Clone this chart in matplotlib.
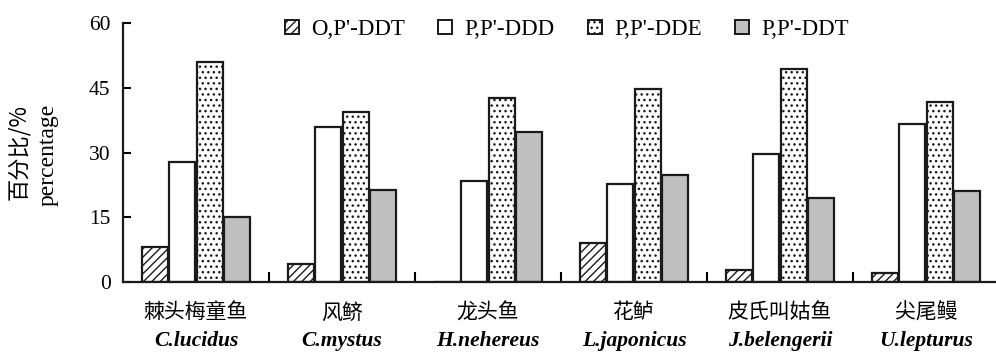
import matplotlib
matplotlib.use("Agg")
import matplotlib.pyplot as plt
from matplotlib.patches import Patch
import numpy as np

# ---- data ----
species_cn = ["棘头梅童鱼", "风鲚", "龙头鱼", "花鲈", "皮氏叫姑鱼", "尖尾鳗"]
species_lat = ["C.lucidus", "C.mystus", "H.nehereus", "L.japonicus", "J.belengerii", "U.lepturus"]
series_names = ["O,P'-DDT", "P,P'-DDD", "P,P'-DDE", "P,P'-DDT"]
op_ddt = [8.0, 4.2, 0.0, 9.1, 2.8, 2.1]
pp_ddd = [27.7, 36.0, 23.4, 22.6, 29.7, 36.5]
pp_dde = [51.0, 39.3, 42.6, 44.6, 49.3, 41.8]
pp_ddt = [15.1, 21.4, 34.7, 24.7, 19.5, 21.0]
yticks = [0, 15, 30, 45, 60]

serif = ["Liberation Serif", "DejaVu Serif"]
cjk = ["Noto Sans CJK SC", "DejaVu Sans"]

plt.rcParams['hatch.linewidth'] = 1.0
plt.rcParams['hatch.color'] = 'black'

fig = plt.figure(figsize=(9.96, 3.54), dpi=100)
ax = fig.add_axes([123/996, 72/354, 876/996, 259/354])

n = len(species_cn)
centers = np.arange(n) + 0.5
w = 0.18
offsets = [-0.282, -0.094, 0.094, 0.282]
styles = [
    dict(facecolor='white', hatch='////'),
    dict(facecolor='white', hatch=None),
    dict(facecolor='white', hatch='...'),
    dict(facecolor='#c0c0c0', hatch=None),
]
data = [op_ddt, pp_ddd, pp_dde, pp_ddt]
for vals, off, st in zip(data, offsets, styles):
    ax.bar(centers + off, vals, width=w, edgecolor='#1a1a1a', linewidth=1.6,
           facecolor=st['facecolor'], hatch=st['hatch'], zorder=2)

ax.set_xlim(0, n)
ax.set_ylim(0, 60)
ax.set_yticks(yticks)
ax.set_yticklabels([str(t) for t in yticks], family=serif, fontsize=15.5)
ax.tick_params(axis='y', direction='in', length=6, width=1.5, pad=9)

ax.set_xticks(centers)
ax.set_xticklabels(species_cn, family=cjk, fontsize=15)
ax.set_xticks(np.arange(1, n), minor=True)
ax.tick_params(axis='x', which='major', length=0, pad=14)
ax.tick_params(axis='x', which='minor', direction='in', length=7, width=1.5)

for c, lat in zip(centers, species_lat):
    ax.annotate(lat, xy=(c, 0), xycoords=('data', 'axes fraction'),
                xytext=(0, -42.5), textcoords='offset points',
                ha='center', va='center', family=serif, style='italic',
                weight='bold', fontsize=15.5)

for s in ['top', 'right']:
    ax.spines[s].set_visible(False)
for s in ['left', 'bottom']:
    ax.spines[s].set_linewidth(1.6)
    ax.spines[s].set_color('#1a1a1a')

# y label (two lines, different scripts)
fig.text(19/996, 1 - 152/354, "百分比/%", rotation=90, ha='center', va='center',
         family=cjk, fontsize=16)
fig.text(48/996, 1 - 155/354, "percentage", rotation=90, ha='center', va='center',
         family=serif, fontsize=17)

handles = [Patch(facecolor=st['facecolor'], hatch=st['hatch'], edgecolor='#1a1a1a',
                 linewidth=1.4) for st in styles]
fig.legend(handles, series_names, loc='center', bbox_to_anchor=(567/996, 1 - 29.5/354),
           ncol=4, frameon=False, prop={'family': serif, 'size': 16.5},
           handlelength=0.6, handleheight=0.6, handletextpad=0.55,
           columnspacing=1.45)

fig.savefig("out.png", dpi=100)
